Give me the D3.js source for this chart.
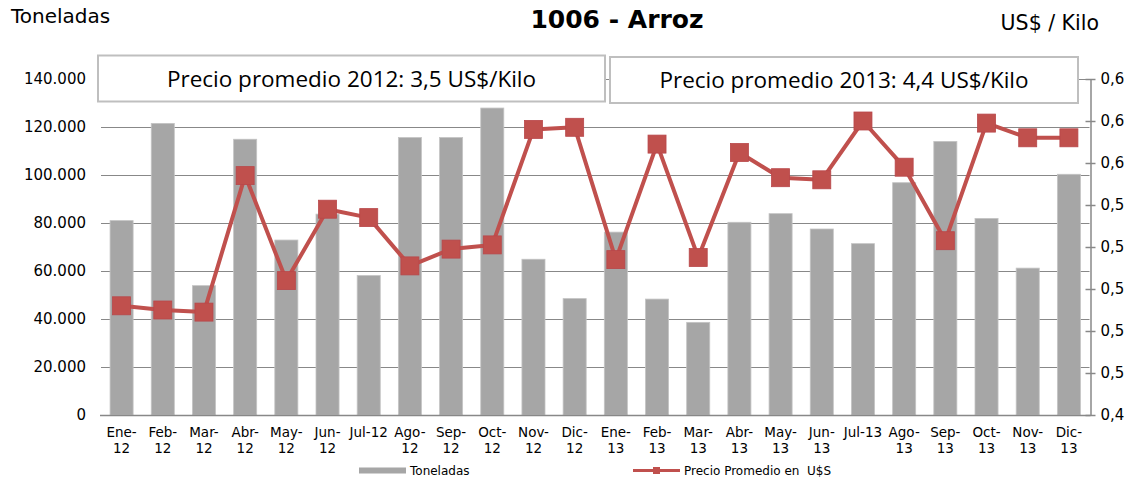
<!DOCTYPE html>
<html>
<head>
<meta charset="utf-8">
<script src="https://cdn.jsdelivr.net/npm/d3@7"></script>
<style>
  html, body { margin: 0; padding: 0; background: #fff; }
  svg { display: block; }
</style>
</head>
<body>
<svg id="chart" width="1134" height="482"></svg>
<script>
// ---- Data ----
const categories = ["Ene-12","Feb-12","Mar-12","Abr-12","May-12","Jun-12","Jul-12","Ago-12","Sep-12","Oct-12","Nov-12","Dic-12",
                    "Ene-13","Feb-13","Mar-13","Abr-13","May-13","Jun-13","Jul-13","Ago-13","Sep-13","Oct-13","Nov-13","Dic-13"];
const toneladas = [81000,121500,53900,114900,72900,83700,58100,115600,115600,127900,64900,48500,
                   76200,48300,38600,80300,83900,77500,71400,96800,114000,81900,61200,100300];
const precio = [0.492,0.490,0.489,0.554,0.504,0.538,0.534,0.511,0.519,0.521,0.576,0.577,
                0.514,0.569,0.515,0.565,0.553,0.552,0.580,0.558,0.523,0.579,0.572,0.572];
const leftTicks = [0,20000,40000,60000,80000,100000,120000,140000];
const rightTicks = [0.44,0.46,0.48,0.50,0.52,0.54,0.56,0.58,0.60];
const title = "1006 - Arroz";
const leftTitle = "Toneladas";
const rightTitle = "US$ / Kilo";
const notes = ["Precio promedio 2012: 3,5 US$/Kilo", "Precio promedio 2013: 4,4 US$/Kilo"];
const legendLabels = ["Toneladas", "Precio Promedio en  U$S"];

// ---- Layout ----
const svg = d3.select("#chart");
const X0 = 101, X1 = 1089.5, Y0 = 415, Y1 = 79;
const axisFont = "DejaVu Sans, Verdana, sans-serif";
const barColor = "#a6a6a6", lineColor = "#c0504d", gridColor = "#888888";

const x = d3.scaleBand().domain(categories).range([X0, X1]).paddingInner(0.44).paddingOuter(0.22);
const yL = d3.scaleLinear().domain([0, 140000]).range([Y0, Y1]);
const yR = d3.scaleLinear().domain([0.44, 0.60]).range([Y0, Y1]);

const fmtL = v => d3.format(",")(v).replace(/,/g, ".");
const fmtR = v => d3.format(".1f")(v + 1e-9).replace(".", ",");

// gridlines
svg.append("g").selectAll("line").data(leftTicks.filter(d => d > 0)).join("line")
  .attr("x1", X0).attr("x2", X1).attr("y1", d => Math.round(yL(d)) + 0.5).attr("y2", d => Math.round(yL(d)) + 0.5)
  .attr("stroke", gridColor).attr("stroke-width", 1.2);

// bars
svg.append("g").selectAll("rect").data(categories).join("rect")
  .attr("x", d => x(d)).attr("width", x.bandwidth())
  .attr("y", (d, i) => yL(toneladas[i])).attr("height", (d, i) => Y0 - yL(toneladas[i]))
  .attr("fill", barColor).attr("stroke", "#c4c4c4").attr("stroke-width", 0.8);

// left axis (no line)
const gL = svg.append("g").attr("transform", `translate(${X0},0)`)
  .call(d3.axisLeft(yL).tickValues(leftTicks).tickFormat(fmtL).tickSize(0).tickPadding(15));
gL.select(".domain").remove();
gL.selectAll("text").attr("font-family", axisFont).attr("font-size", 15).attr("fill", "#000");

// right axis
const gR = svg.append("g").attr("transform", `translate(1090.5,0)`)
  .call(d3.axisRight(yR).tickValues(rightTicks).tickFormat(fmtR).tickSizeOuter(0).tickSizeInner(5).tickPadding(5));
gR.select(".domain").attr("stroke", gridColor).attr("stroke-width", 1.5);
gR.selectAll(".tick line").attr("stroke", gridColor).attr("stroke-width", 1.5).attr("x1", -5);
gR.selectAll("text").attr("font-family", axisFont).attr("font-size", 15).attr("fill", "#000");

// x axis line
svg.append("line").attr("x1", X0 - 1).attr("x2", X1 + 1).attr("y1", Y0 + 0.5).attr("y2", Y0 + 0.5)
  .attr("stroke", gridColor).attr("stroke-width", 1.5);

// x labels
const gX = svg.append("g");
categories.forEach(c => {
  const cx = x(c) + x.bandwidth() / 2;
  const t = gX.append("text").attr("x", cx).attr("y", 437).attr("text-anchor", "middle")
    .attr("font-family", axisFont).attr("font-size", 13.5).attr("fill", "#000").text(c);
  if (t.node().getComputedTextLength() > x.step() - 1) {
    const parts = c.split("-");
    t.text(parts[0] + "-");
    gX.append("text").attr("x", cx).attr("y", 453).attr("text-anchor", "middle")
      .attr("font-family", axisFont).attr("font-size", 13.5).attr("fill", "#000").text(parts[1]);
  }
});

// line
const line = d3.line().x((d, i) => x(categories[i]) + x.bandwidth() / 2).y(d => yR(d));
svg.append("path").datum(precio).attr("d", line).attr("fill", "none")
  .attr("stroke", lineColor).attr("stroke-width", 4).attr("stroke-linejoin", "round");
const ms = 18;
svg.append("g").selectAll("rect").data(precio).join("rect")
  .attr("x", (d, i) => x(categories[i]) + x.bandwidth() / 2 - ms / 2)
  .attr("y", d => yR(d) - ms / 2).attr("width", ms).attr("height", ms)
  .attr("fill", lineColor).attr("stroke", "#b8474a").attr("stroke-width", 0.8);

// note boxes
const boxes = [{x: 98, y: 55.5, w: 507, h: 46}, {x: 610, y: 57, w: 468, h: 46}];
boxes.forEach((b, i) => {
  svg.append("rect").attr("x", b.x).attr("y", b.y).attr("width", b.w).attr("height", b.h)
    .attr("fill", "#fff").attr("stroke", "#bfbfbf").attr("stroke-width", 2);
  svg.append("text").attr("x", b.x + b.w / 2).attr("y", b.y + b.h / 2 + 8).attr("text-anchor", "middle")
    .attr("font-family", "Open Sans, Noto Sans, sans-serif").attr("font-size", 22.5).attr("fill", "#000").text(notes[i]);
});

// titles
svg.append("text").attr("x", 617).attr("y", 28).attr("text-anchor", "middle")
  .attr("font-family", axisFont).attr("font-weight", "bold").attr("font-size", 25).attr("fill", "#000").text(title);
svg.append("text").attr("x", 11).attr("y", 23)
  .attr("font-family", axisFont).attr("font-size", 20).attr("fill", "#000").text(leftTitle);
svg.append("text").attr("x", 1099).attr("y", 30).attr("text-anchor", "end")
  .attr("font-family", axisFont).attr("font-size", 20.5).attr("fill", "#000").text(rightTitle);

// legend
svg.append("rect").attr("x", 359).attr("y", 467.5).attr("width", 47).attr("height", 6).attr("fill", barColor);
svg.append("text").attr("x", 410).attr("y", 475).attr("font-family", axisFont).attr("font-size", 12)
  .attr("fill", "#000").text(legendLabels[0]);
svg.append("line").attr("x1", 633).attr("x2", 680).attr("y1", 470.5).attr("y2", 470.5)
  .attr("stroke", lineColor).attr("stroke-width", 3);
svg.append("rect").attr("x", 653).attr("y", 467).attr("width", 7).attr("height", 7).attr("fill", lineColor);
svg.append("text").attr("x", 684).attr("y", 475).attr("font-family", axisFont).attr("font-size", 12)
  .attr("fill", "#000").attr("xml:space", "preserve").style("white-space", "pre").text(legendLabels[1]);
</script>
</body>
</html>
